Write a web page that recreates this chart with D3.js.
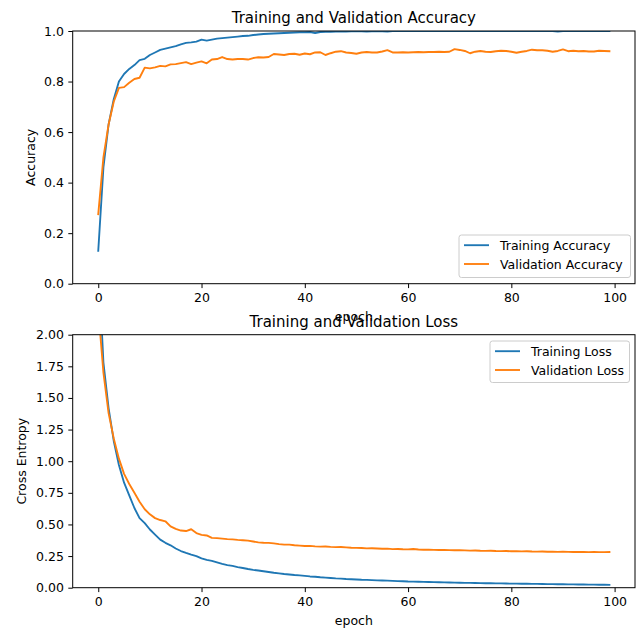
<!DOCTYPE html>
<html>
<head>
<meta charset="utf-8">
<script src="https://cdn.jsdelivr.net/npm/d3@7"></script>
<style>
  body { margin: 0; background: #fff; }
  svg { display: block; font-family: "DejaVu Sans", sans-serif; }
</style>
</head>
<body>
<svg id="chart" width="643" height="630"></svg>
<script>
// values, one per epoch (0..99)
const trainAcc = [
  0.13, 0.46, 0.63, 0.73, 0.80, 0.83, 0.85, 0.865, 0.885, 0.89,
  0.905, 0.915, 0.925, 0.93, 0.935, 0.94, 0.947, 0.953, 0.955, 0.958,
  0.966, 0.962, 0.966, 0.970, 0.972, 0.974, 0.976, 0.978, 0.980, 0.981,
  0.984, 0.986, 0.988, 0.989, 0.990, 0.991, 0.992, 0.993, 0.994, 0.995,
  0.995, 0.996, 0.992, 0.996, 0.997, 0.997, 0.998, 0.998, 0.998, 0.999,
  0.999, 0.999, 0.998, 0.999, 0.999, 0.999, 0.998, 1.0, 1.0, 1.0,
  1.0, 1.0, 1.0, 1.0, 1.0, 1.0, 1.0, 1.0, 1.0, 1.0,
  1.0, 1.0, 1.0, 1.0, 1.0, 1.0, 1.0, 1.0, 1.0, 1.0,
  1.0, 1.0, 1.0, 1.0, 1.0, 1.0, 1.0, 1.0, 1.0, 0.998,
  1.0, 1.0, 1.0, 1.0, 1.0, 1.0, 1.0, 1.0, 1.0, 1.0
];
const valAcc = [
  0.275, 0.50, 0.63, 0.72, 0.775, 0.778, 0.795, 0.81, 0.815, 0.855,
  0.852, 0.856, 0.862, 0.86, 0.868, 0.869, 0.873, 0.877, 0.869, 0.875,
  0.880, 0.872, 0.887, 0.889, 0.897, 0.889, 0.887, 0.889, 0.889, 0.887,
  0.893, 0.896, 0.895, 0.897, 0.909, 0.907, 0.905, 0.909, 0.910, 0.906,
  0.911, 0.908, 0.915, 0.916, 0.905, 0.912, 0.918, 0.920, 0.915, 0.913,
  0.910, 0.915, 0.917, 0.915, 0.915, 0.919, 0.924, 0.915, 0.915, 0.916,
  0.915, 0.916, 0.917, 0.916, 0.917, 0.917, 0.918, 0.917, 0.918, 0.928,
  0.925, 0.921, 0.912, 0.918, 0.921, 0.918, 0.917, 0.920, 0.922, 0.921,
  0.918, 0.914, 0.918, 0.921, 0.926, 0.924, 0.924, 0.922, 0.918, 0.921,
  0.927, 0.920, 0.922, 0.920, 0.921, 0.919, 0.919, 0.922, 0.921, 0.920
];
const trainLoss = [
  2.60, 1.78, 1.42, 1.16, 0.97, 0.83, 0.73, 0.63, 0.55, 0.51,
  0.46, 0.42, 0.38, 0.355, 0.335, 0.31, 0.29, 0.275, 0.262, 0.25,
  0.232, 0.22, 0.212, 0.20, 0.188, 0.178, 0.172, 0.163, 0.156, 0.148,
  0.141, 0.136, 0.130, 0.124, 0.118, 0.113, 0.108, 0.104, 0.100, 0.097,
  0.093, 0.089, 0.087, 0.083, 0.080, 0.077, 0.074, 0.072, 0.069, 0.067,
  0.065, 0.063, 0.062, 0.060, 0.058, 0.057, 0.056, 0.054, 0.052, 0.051,
  0.049, 0.048, 0.047, 0.046, 0.045, 0.044, 0.043, 0.042, 0.041, 0.040,
  0.039, 0.038, 0.038, 0.037, 0.036, 0.035, 0.035, 0.034, 0.034, 0.033,
  0.032, 0.032, 0.031, 0.031, 0.030, 0.030, 0.029, 0.028, 0.028, 0.027,
  0.027, 0.026, 0.026, 0.025, 0.025, 0.024, 0.024, 0.023, 0.023, 0.022
];
const valLoss = [
  2.20, 1.70, 1.38, 1.18, 1.02, 0.90, 0.82, 0.75, 0.68, 0.62,
  0.58, 0.55, 0.535, 0.525, 0.485, 0.465, 0.452, 0.448, 0.462, 0.432,
  0.418, 0.413, 0.394, 0.392, 0.388, 0.384, 0.382, 0.378, 0.375, 0.372,
  0.365, 0.358, 0.355, 0.354, 0.350, 0.345, 0.341, 0.340, 0.336, 0.333,
  0.330, 0.331, 0.327, 0.325, 0.326, 0.323, 0.321, 0.322, 0.319, 0.316,
  0.315, 0.314, 0.311, 0.312, 0.310, 0.308, 0.309, 0.305, 0.306, 0.304,
  0.303, 0.306, 0.302, 0.300, 0.301, 0.299, 0.298, 0.299, 0.297, 0.296,
  0.297, 0.295, 0.293, 0.294, 0.292, 0.291, 0.292, 0.290, 0.289, 0.290,
  0.288, 0.288, 0.287, 0.288, 0.286, 0.285, 0.286, 0.284, 0.285, 0.283,
  0.284, 0.283, 0.282, 0.283, 0.282, 0.281, 0.282, 0.281, 0.281, 0.282
];
const epochs = d3.range(trainAcc.length);
const xTicks = [0, 20, 40, 60, 80, 100];
const accTicks = [0, 0.2, 0.4, 0.6, 0.8, 1.0];
const lossTicks = [0, 0.25, 0.5, 0.75, 1.0, 1.25, 1.5, 1.75, 2.0];

const BLUE = '#1f77b4', ORANGE = '#ff7f0e';
const FS = 12.5, TITLE_FS = 15, TICK = 4.4;
const left = 72.7, right = 635;

const svg = d3.select('#chart');

const panels = [
  {id: 'acc', top: 31, bottom: 283.7, domain: [0, 1], ticks: accTicks, fmt: d3.format('.1f'),
   title: 'Training and Validation Accuracy', ylabel: 'Accuracy', ylabelX: 35,
   series: [{name: 'Training Accuracy', values: trainAcc, color: BLUE},
            {name: 'Validation Accuracy', values: valAcc, color: ORANGE}],
   legend: {x: 459, y: 235, w: 171.5, h: 42.5}},
  {id: 'loss', top: 334.7, bottom: 587.7, domain: [0, 2], ticks: lossTicks, fmt: d3.format('.2f'),
   title: 'Training and Validation Loss', ylabel: 'Cross Entropy', ylabelX: 26,
   series: [{name: 'Training Loss', values: trainLoss, color: BLUE},
            {name: 'Validation Loss', values: valLoss, color: ORANGE}],
   legend: {x: 490, y: 341, w: 139.5, h: 41.5}}
];

const x = d3.scaleLinear().domain([-4.95, 103.95]).range([left, right]);

panels.forEach(p => {
  const y = d3.scaleLinear().domain(p.domain).range([p.bottom, p.top]);
  const g = svg.append('g').attr('class', 'panel-' + p.id);

  g.append('clipPath').attr('id', 'clip-' + p.id)
    .append('rect')
      .attr('x', left).attr('y', p.top)
      .attr('width', right - left).attr('height', p.bottom - p.top);

  // lines
  const line = d3.line().x((_, i) => x(epochs[i])).y(d => y(d));
  g.append('g').attr('clip-path', `url(#clip-${p.id})`)
    .selectAll('path.series')
    .data(p.series)
    .enter().append('path')
      .attr('class', 'series')
      .attr('fill', 'none')
      .attr('stroke', d => d.color)
      .attr('stroke-width', 1.87)
      .attr('stroke-linejoin', 'round')
      .attr('stroke-linecap', 'square')
      .attr('d', d => line(d.values));

  // axes
  const xAxis = g.append('g')
    .attr('transform', `translate(0,${p.bottom})`)
    .call(d3.axisBottom(x).tickValues(xTicks).tickFormat(d3.format('d'))
      .tickSize(TICK).tickPadding(4.4).tickSizeOuter(0));
  const yAxis = g.append('g')
    .attr('transform', `translate(${left},0)`)
    .call(d3.axisLeft(y).tickValues(p.ticks).tickFormat(p.fmt)
      .tickSize(TICK).tickPadding(4.4).tickSizeOuter(0));
  [xAxis, yAxis].forEach(a => {
    a.select('.domain').remove();
    a.selectAll('line').attr('stroke', '#000').attr('stroke-width', 1.0);
    a.selectAll('text').attr('fill', '#000').attr('font-size', FS)
      .attr('font-family', '"DejaVu Sans", sans-serif');
  });
  xAxis.selectAll('text').attr('dy', '0.76em');

  // spines
  g.append('rect')
    .attr('x', left).attr('y', p.top)
    .attr('width', right - left).attr('height', p.bottom - p.top)
    .attr('fill', 'none').attr('stroke', '#000').attr('stroke-width', 1.0);

  // labels
  g.append('text')
    .attr('x', (left + right) / 2).attr('y', p.top - 8)
    .attr('text-anchor', 'middle').attr('font-size', TITLE_FS)
    .text(p.title);
  g.append('text')
    .attr('x', (left + right) / 2).attr('y', p.bottom + 37)
    .attr('text-anchor', 'middle').attr('font-size', FS)
    .text('epoch');
  g.append('text')
    .attr('transform', `translate(${p.ylabelX},${(p.top + p.bottom) / 2}) rotate(-90)`)
    .attr('text-anchor', 'middle').attr('font-size', FS)
    .text(p.ylabel);

  // legend
  const L = p.legend;
  const lg = g.append('g').attr('class', 'legend');
  lg.append('rect')
    .attr('x', L.x).attr('y', L.y).attr('width', L.w).attr('height', L.h)
    .attr('rx', 2.5).attr('ry', 2.5)
    .attr('fill', '#fff').attr('fill-opacity', 0.8)
    .attr('stroke', '#cccccc').attr('stroke-width', 1.0);
  const items = lg.selectAll('g.item').data(p.series).enter().append('g')
    .attr('class', 'item')
    .attr('transform', (_, i) => `translate(${L.x + 5},${L.y + 10.2 + i * 18.8})`);
  items.append('line')
    .attr('x1', 0).attr('x2', 25).attr('y1', 0).attr('y2', 0)
    .attr('stroke', d => d.color).attr('stroke-width', 1.87);
  items.append('text')
    .attr('x', 36).attr('y', 0).attr('dy', '0.36em')
    .attr('font-size', FS)
    .text(d => d.name);
});
</script>
</body>
</html>
